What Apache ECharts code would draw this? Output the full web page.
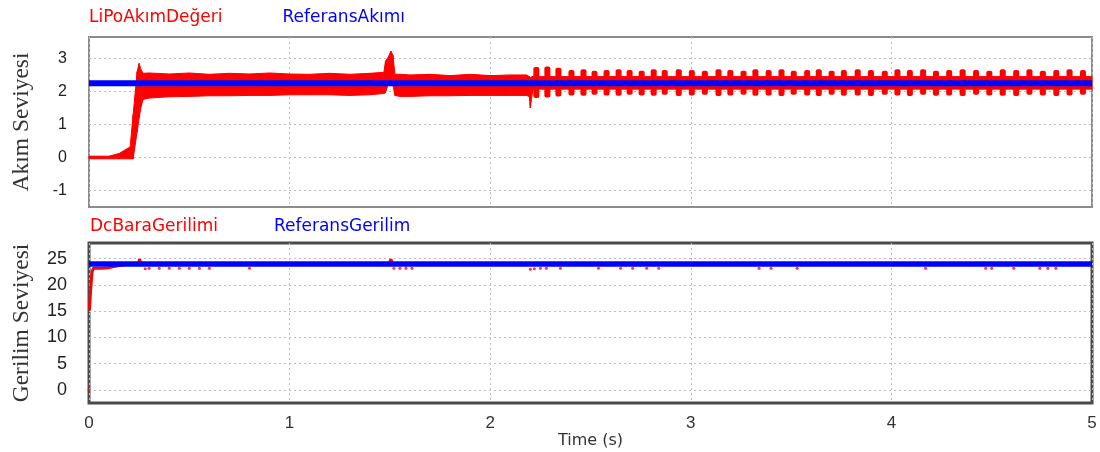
<!DOCTYPE html>
<html>
<head>
<meta charset="utf-8">
<title>Akım ve Gerilim</title>
<script src="https://cdn.jsdelivr.net/npm/echarts@6.0.0/dist/echarts.min.js"></script>
<style>
  html, body { margin: 0; padding: 0; background: #fff; }
  #main { width: 1100px; height: 452px; }
</style>
</head>
<body>
<div id="main"></div>
<script>
// --- akım (üst grafik) ---
// kırmızı sinyalin alt/üst zarfı
const curT  = [0, 0.1, 0.15, 0.205, 0.22, 0.24, 0.25, 0.26, 0.27, 0.3, 0.4, 0.5, 0.6, 0.7, 0.8, 0.9, 1.0, 1.1, 1.2, 1.3, 1.4, 1.47, 1.478, 1.49, 1.505, 1.515, 1.525, 1.55, 1.6, 1.7, 1.8, 1.9, 2.0, 2.1, 2.18, 2.195, 2.2, 2.21, 2.215, 2.5, 3.0, 3.5, 4.0, 4.5, 5.0];
const curHi = [0.04, 0.04, 0.12, 0.32, 1.3, 2.6, 2.85, 2.65, 2.55, 2.56, 2.53, 2.56, 2.52, 2.55, 2.53, 2.56, 2.53, 2.52, 2.55, 2.52, 2.55, 2.58, 2.92, 3.02, 3.22, 3.1, 2.52, 2.52, 2.5, 2.52, 2.48, 2.52, 2.48, 2.5, 2.5, 2.45, 2.42, 2.45, 2.45, 2.45, 2.45, 2.45, 2.45, 2.45, 2.45];
const curLo = [-0.04, -0.04, -0.04, -0.04, -0.04, 0.78, 1.2, 1.55, 1.76, 1.8, 1.84, 1.85, 1.87, 1.87, 1.88, 1.88, 1.9, 1.9, 1.9, 1.88, 1.9, 1.94, 1.96, 2.2, 2.25, 2.2, 1.88, 1.85, 1.85, 1.87, 1.87, 1.88, 1.88, 1.88, 1.88, 1.85, 1.5, 1.95, 2.07, 2.07, 2.07, 2.07, 2.07, 2.07, 2.07];

// 2.2 s sonrası darbeler
const pulseT  = [2.23, 2.285, 2.34, 2.405, 2.465, 2.52, 2.58, 2.64, 2.695, 2.755, 2.815, 2.87, 2.94, 3.005, 3.07, 3.138, 3.197, 3.263, 3.322, 3.388, 3.452, 3.513, 3.58, 3.638, 3.702, 3.763, 3.832, 3.898, 3.967, 4.03, 4.092, 4.158, 4.222, 4.288, 4.355, 4.422, 4.488, 4.555, 4.622, 4.688, 4.755, 4.822, 4.888, 4.955];
const pulseHi = [2.74, 2.76, 2.72, 2.65, 2.67, 2.63, 2.65, 2.67, 2.65, 2.63, 2.67, 2.65, 2.67, 2.65, 2.63, 2.67, 2.65, 2.63, 2.67, 2.65, 2.67, 2.63, 2.65, 2.67, 2.63, 2.65, 2.67, 2.65, 2.63, 2.67, 2.65, 2.67, 2.63, 2.65, 2.67, 2.65, 2.63, 2.67, 2.65, 2.67, 2.63, 2.65, 2.67, 2.65];
const pulseLo = [1.8, 1.82, 1.85, 1.88, 1.87, 1.9, 1.88, 1.87, 1.9, 1.88, 1.87, 1.9, 1.86, 1.88, 1.9, 1.86, 1.88, 1.9, 1.87, 1.88, 1.86, 1.9, 1.88, 1.86, 1.9, 1.87, 1.88, 1.86, 1.9, 1.88, 1.86, 1.9, 1.87, 1.88, 1.86, 1.9, 1.88, 1.87, 1.86, 1.9, 1.88, 1.86, 1.88, 1.9];

const refCurT = [0, 5];
const refCurV = [2.25, 2.25];

// --- gerilim (alt grafik) ---
const voltT = [0.002, 0.008, 0.015, 0.022, 0.06, 0.1, 0.15, 0.2, 0.245, 0.252, 0.26, 1.495, 1.505, 1.515, 5];
const voltV = [15.2, 19, 22.5, 23.2, 23.2, 23.3, 23.7, 24, 24, 24.9, 24, 24, 24.9, 24, 24];
const voltDotT = [0, 0.28, 0.3, 0.35, 0.4, 0.45, 0.5, 0.55, 0.6, 0.8, 1.52, 1.55, 1.58, 1.61, 2.2, 2.22, 2.25, 2.28, 2.35, 2.54, 2.65, 2.71, 2.78, 2.84, 3.34, 3.4, 3.53, 4.17, 4.47, 4.5, 4.61, 4.74, 4.78, 4.82];
const voltDotV = [0, 23.1, 23.2, 23.2, 23.2, 23.2, 23.2, 23.2, 23.2, 23.2, 23.2, 23.2, 23.2, 23.2, 23.0, 23.1, 23.2, 23.2, 23.2, 23.2, 23.2, 23.2, 23.2, 23.2, 23.2, 23.2, 23.2, 23.2, 23.2, 23.2, 23.2, 23.2, 23.2, 23.2];

const refVoltT = [0, 5];
const refVoltV = [24, 24];

const curTicks = [-1, 0, 1, 2, 3];
const voltTicks = [0, 5, 10, 15, 20, 25];

const RED = '#ff0000';
const BLUE = '#0000ff';
const PULSE_HALF = 0.015;
const sans = 'Liberation Sans, Arial, sans-serif';
const wide = 'DejaVu Sans, Verdana, sans-serif';
const serif = 'Liberation Serif, Times New Roman, serif';

const zip = (xs, ys) => xs.map((x, i) => [x, ys[i]]);

// zarfı parça parça çokgen olarak çizmek için komşu noktaları yan yana koy
const bandData = curT.slice(0, -1).map((t, i) =>
  [t, curHi[i], curLo[i], curT[i + 1], curHi[i + 1], curLo[i + 1]]);

const gridLine = { show: true, lineStyle: { type: [2, 3], color: '#bdbdbd', width: 1 } };

function xAxis(gridIndex, withLabels) {
  return {
    type: 'value', gridIndex: gridIndex, min: 0, max: 5, interval: 1,
    axisLine: { show: false }, axisTick: { show: false },
    axisLabel: { show: withLabels, fontSize: 17, color: '#333', fontFamily: sans, margin: 12 },
    splitLine: gridLine,
    name: withLabels ? 'Time (s)' : '',
    nameLocation: 'middle', nameGap: 26,
    nameTextStyle: { fontSize: 16, color: '#333', fontFamily: wide }
  };
}

function yAxis(gridIndex, min, max, ticks, name, fontSize) {
  return {
    type: 'value', gridIndex: gridIndex, min: min, max: max,
    axisLine: { show: false },
    axisTick: { show: false, customValues: ticks },
    axisLabel: { customValues: ticks, fontSize: fontSize, color: '#222', fontFamily: sans, margin: 22 },
    splitLine: gridLine,
    name: name, nameLocation: 'middle', nameGap: 55,
    nameTextStyle: { fontSize: 23.5, color: '#333', fontFamily: serif }
  };
}

function legend(top, gap, names, colors) {
  return {
    top: top, left: 79, itemGap: gap, itemWidth: 0, itemHeight: 0,
    selectedMode: false,
    itemStyle: { opacity: 0 }, lineStyle: { opacity: 0 },
    textStyle: { fontSize: 17, fontFamily: wide },
    data: names.map((n, i) => ({ name: n, textStyle: { color: colors[i] } }))
  };
}

const chart = echarts.init(document.getElementById('main'));

chart.setOption({
  backgroundColor: '#fff',
  animation: false,
  legend: [
    legend(4, 54, ['LiPoAkımDeğeri', 'ReferansAkımı'], [RED, BLUE]),
    legend(213, 50, ['DcBaraGerilimi', 'ReferansGerilim'], [RED, BLUE])
  ],
  grid: [
    { left: 89, right: 8, top: 37, height: 170, show: true, borderColor: '#8c8c8c', borderWidth: 2 },
    { left: 89, right: 8, top: 243, height: 160, show: true, borderColor: '#4a4a4a', borderWidth: 3 }
  ],
  xAxis: [xAxis(0, false), xAxis(1, true)],
  yAxis: [
    yAxis(0, -1.5, 3.65, curTicks, 'Akım Seviyesi', 16),
    yAxis(1, -2.5, 28, voltTicks, 'Gerilim Seviyesi', 18)
  ],
  series: [
    {
      name: 'LiPoAkımDeğeri', type: 'custom', xAxisIndex: 0, yAxisIndex: 0,
      silent: true,
      data: bandData,
      renderItem: function (params, api) {
        const p = [
          api.coord([api.value(0), api.value(1)]),
          api.coord([api.value(3), api.value(4)]),
          api.coord([api.value(3), api.value(5)]),
          api.coord([api.value(0), api.value(2)])
        ];
        return {
          type: 'polygon',
          shape: { points: p },
          style: { fill: RED, stroke: RED, lineWidth: 1 }
        };
      }
    },
    {
      name: 'LiPoAkımDeğeri', type: 'custom', xAxisIndex: 0, yAxisIndex: 0,
      silent: true,
      data: pulseT.map((t, i) => [t, pulseHi[i], pulseLo[i]]),
      renderItem: function (params, api) {
        const a = api.coord([api.value(0) - PULSE_HALF, api.value(1)]);
        const b = api.coord([api.value(0) + PULSE_HALF, api.value(2)]);
        return {
          type: 'rect',
          shape: { x: a[0], y: a[1], width: b[0] - a[0], height: b[1] - a[1], r: 2 },
          style: { fill: RED }
        };
      }
    },
    {
      name: 'ReferansAkımı', type: 'line', xAxisIndex: 0, yAxisIndex: 0,
      symbol: 'none', silent: true, z: 5,
      lineStyle: { color: BLUE, width: 6 },
      data: zip(refCurT, refCurV)
    },
    {
      name: 'DcBaraGerilimi', type: 'line', xAxisIndex: 1, yAxisIndex: 1,
      symbol: 'none', silent: true,
      lineStyle: { color: RED, width: 3 },
      data: zip(voltT, voltV)
    },
    {
      name: 'DcBaraGerilimi', type: 'scatter', xAxisIndex: 1, yAxisIndex: 1,
      symbolSize: 3, silent: true,
      itemStyle: { color: RED },
      data: zip(voltDotT, voltDotV)
    },
    {
      name: 'ReferansGerilim', type: 'line', xAxisIndex: 1, yAxisIndex: 1,
      symbol: 'none', silent: true, z: 5,
      lineStyle: { color: BLUE, width: 5.5 },
      data: zip(refVoltT, refVoltV)
    }
  ]
});
</script>
</body>
</html>
